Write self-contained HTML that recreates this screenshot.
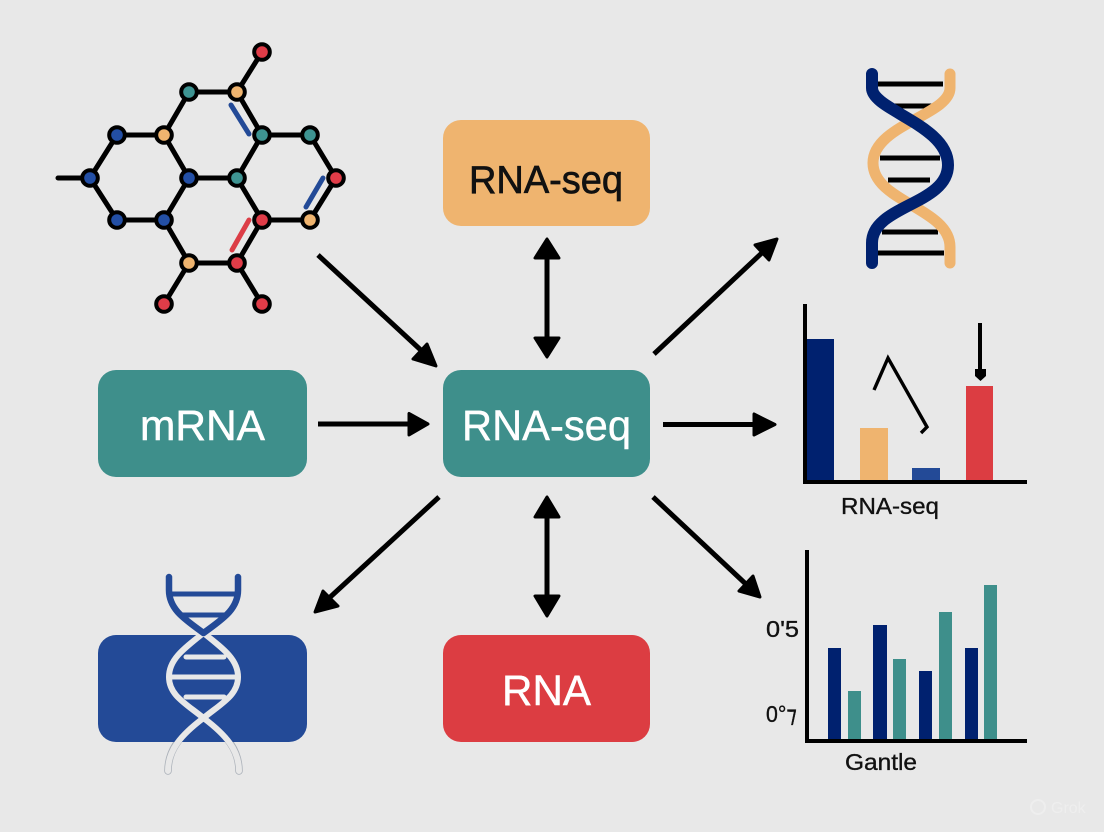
<!DOCTYPE html>
<html><head><meta charset="utf-8"><style>
html,body{margin:0;padding:0;background:#e8e8e8;width:1104px;height:832px;overflow:hidden}
svg{display:block}
text{font-family:"Liberation Sans",sans-serif}
</style></head><body>
<svg width="1104" height="832" viewBox="0 0 1104 832" xmlns="http://www.w3.org/2000/svg">
<defs><clipPath id="below"><rect x="150" y="742" width="110" height="40"/></clipPath></defs>
<rect width="1104" height="832" fill="#e8e8e8"/>

<!-- Molecule -->
<g stroke="#000" stroke-width="5" fill="none" stroke-linecap="round" stroke-linejoin="round">
<path d="M58 178H90L117 135H164L189 92H237L262 52M237 92L262 135H310L336 178L310 220H262L237 178H189L164 135M189 178L164 220H117L90 178M262 135L237 178M164 220L189 263H237L262 220M189 263L164 304M237 263L262 304"/>
</g>
<g stroke-width="5" stroke-linecap="round" fill="none">
<path d="M231 105L249 134M306 207L323 178" stroke="#234a97"/>
<path d="M232 250L249 220" stroke="#dc3d46"/>
</g>
<g stroke="#000" stroke-width="4">
<circle cx="262" cy="52" r="7.8" fill="#e03c48"/>
<circle cx="237" cy="92" r="7.8" fill="#efb46f"/>
<circle cx="189" cy="92" r="7.8" fill="#3e9492"/>
<circle cx="117" cy="135" r="7.8" fill="#234fa5"/>
<circle cx="164" cy="135" r="7.8" fill="#efb46f"/>
<circle cx="262" cy="135" r="7.8" fill="#3e9492"/>
<circle cx="310" cy="135" r="7.8" fill="#3e9492"/>
<circle cx="90" cy="178" r="7.8" fill="#234fa5"/>
<circle cx="189" cy="178" r="7.8" fill="#234fa5"/>
<circle cx="237" cy="178" r="7.8" fill="#3e9492"/>
<circle cx="336" cy="178" r="7.8" fill="#e03c48"/>
<circle cx="117" cy="220" r="7.8" fill="#234fa5"/>
<circle cx="164" cy="220" r="7.8" fill="#234fa5"/>
<circle cx="262" cy="220" r="7.8" fill="#e03c48"/>
<circle cx="310" cy="220" r="7.8" fill="#efb46f"/>
<circle cx="189" cy="263" r="7.8" fill="#efb46f"/>
<circle cx="237" cy="263" r="7.8" fill="#e03c48"/>
<circle cx="164" cy="304" r="7.8" fill="#e03c48"/>
<circle cx="262" cy="304" r="7.8" fill="#e03c48"/>
</g>

<!-- Boxes -->
<rect x="443" y="120" width="207" height="106" rx="18" fill="#efb46f"/>
<rect x="98" y="370" width="209" height="107" rx="18" fill="#3e8f8b"/>
<rect x="443" y="370" width="207" height="107" rx="18" fill="#3e8f8b"/>
<rect x="98" y="635" width="209" height="107" rx="18" fill="#234a97"/>
<rect x="443" y="635" width="207" height="107" rx="18" fill="#dc3d42"/>
<text x="469" y="193" font-size="39" fill="#111" stroke="#111" stroke-width="0.7" textLength="154" lengthAdjust="spacingAndGlyphs">RNA-seq</text>
<text x="140" y="440" font-size="43" fill="#fff" stroke="#fff" stroke-width="0.5" textLength="125" lengthAdjust="spacingAndGlyphs">mRNA</text>
<text x="462" y="440" font-size="43" fill="#fff" stroke="#fff" stroke-width="0.4" textLength="169" lengthAdjust="spacingAndGlyphs">RNA-seq</text>
<text x="502" y="705" font-size="43" fill="#fff" stroke="#fff" stroke-width="0.5" textLength="89" lengthAdjust="spacingAndGlyphs">RNA</text>

<!-- Arrows -->
<g stroke="#000" stroke-width="5" fill="none">
<path d="M318 255L424 353"/>
<path d="M547 255V342"/>
<path d="M654 354L765 250"/>
<path d="M318 424H412"/>
<path d="M663 424.5H758"/>
<path d="M439 497L327 600"/>
<path d="M547 513V600"/>
<path d="M653 497L749 587"/>
</g>
<g fill="#000" stroke="#000" stroke-width="3" stroke-linejoin="round">
<polygon points="436,366 427,344 413,359"/>
<polygon points="547,239 535,258 559,258"/>
<polygon points="547,357 535,338 559,338"/>
<polygon points="777,239 755,245 769,260"/>
<polygon points="428,424 409,413.500 409,435"/>
<polygon points="775,424.5 754,414 754,435"/>
<polygon points="315,612 323,591 338,606"/>
<polygon points="547,497 535,517 559,517"/>
<polygon points="547,616 535,596 559,596"/>
<polygon points="760,597 753,576 739,591"/>
</g>

<!-- DNA top right -->
<g stroke="#000" stroke-width="5">
<path d="M877 84H943M890 106H932M880 158H940M888 180H930M882 232H938M877 253H944"/>
</g>
<path d="M950 74V88C950 115 873 125 873 163C873 202 950 208 950 247V263" fill="none" stroke="#efb46f" stroke-width="11" stroke-linecap="round"/>
<path d="M872 74V88C872 110 948 125 948 165C948 205 872 205 872 243V263" fill="none" stroke="#00216f" stroke-width="12" stroke-linecap="round"/>

<!-- Bar chart 1 -->
<rect x="807" y="339" width="27" height="143" fill="#00216f"/>
<rect x="860" y="428" width="28" height="54" fill="#efb46f"/>
<rect x="912" y="468" width="28" height="14" fill="#234a97"/>
<rect x="966" y="386" width="27" height="96" fill="#dc3d42"/>
<path d="M805 304V484M803 482H1027" stroke="#000" stroke-width="4" fill="none"/>
<path d="M874 390L888 358L927 427L921 433" fill="none" stroke="#000" stroke-width="3.4"/>
<path d="M980 323V372" stroke="#000" stroke-width="4"/>
<path d="M975 369H986V376L980.500 381L975 376Z" fill="#000"/>
<text x="841" y="514" font-size="23" fill="#111" stroke="#111" stroke-width="0.35" textLength="98" lengthAdjust="spacingAndGlyphs">RNA-seq</text>

<!-- Bar chart 2 -->
<g fill="#00216f">
<rect x="828" y="648" width="13" height="93"/>
<rect x="873" y="625" width="14" height="116"/>
<rect x="919" y="671" width="13" height="70"/>
<rect x="965" y="648" width="13" height="93"/>
</g>
<g fill="#3e8f8b">
<rect x="848" y="691" width="13" height="50"/>
<rect x="893" y="659" width="13" height="82"/>
<rect x="939" y="612" width="13" height="129"/>
<rect x="984" y="585" width="13" height="156"/>
</g>
<path d="M807 550V743M805 741H1027" stroke="#000" stroke-width="4" fill="none"/>
<text x="766" y="637" font-size="23" fill="#111" stroke="#111" stroke-width="0.35" textLength="33" lengthAdjust="spacingAndGlyphs">0'5</text>
<text x="766" y="722" font-size="23" fill="#111" stroke="#111" stroke-width="0.35" textLength="31" lengthAdjust="spacingAndGlyphs">0°⁊</text>
<text x="845" y="770" font-size="23" fill="#111" stroke="#111" stroke-width="0.35" textLength="72" lengthAdjust="spacingAndGlyphs">Gantle</text>

<!-- DNA in blue box -->
<g fill="none" stroke-linecap="round">
<path d="M172 594H235M183 615H225" stroke="#234a97" stroke-width="5"/>
<g clip-path="url(#below)" stroke="#aab0b8" stroke-width="7.500">
<path d="M168 771C168 750 180 735 203 718"/>
<path d="M239 771C239 750 227 735 203.500 718"/>
</g>
<g stroke="#e8e8e8" stroke-width="6">
<path d="M203.500 633C182 650 169 660 169 677C169 695 185 703 203.500 718C226 735 239 750 239 771"/>
<path d="M203.500 633C225 650 238 660 238 677C238 695 222 703 203.500 718C181 735 168 750 168 771"/>
</g>
<path d="M169 577V590C169 610 186 620 203.500 633M238 577V590C238 610 221 620 203.500 633" stroke="#234a97" stroke-width="6.500"/>
<path d="M172 677H237M186 657H224M186 697H224" stroke="#e8e8e8" stroke-width="5"/>
</g>

<!-- Watermark -->
<circle cx="1038" cy="807" r="7" fill="none" stroke="#eeeeee" stroke-width="2"/>
<text x="1051" y="813" font-size="16" fill="#eeeeee">Grok</text>
</svg>
</body></html>
